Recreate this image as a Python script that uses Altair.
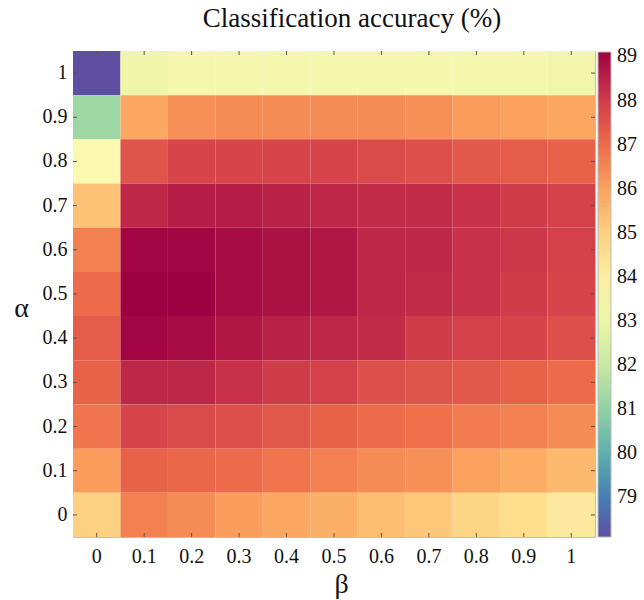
import altair as alt
import pandas as pd

beta = ["0", "0.1", "0.2", "0.3", "0.4", "0.5", "0.6", "0.7", "0.8", "0.9", "1"]
alpha = ["1", "0.9", "0.8", "0.7", "0.6", "0.5", "0.4", "0.3", "0.2", "0.1", "0"]

acc_a10 = [78.1, 83.1, 83.3, 83.3, 83.3, 83.3, 83.3, 83.3, 83.3, 83.3, 83.2]
acc_a09 = [81.2, 85.9, 86.3, 86.4, 86.4, 86.4, 86.4, 86.3, 86.1, 86.0, 85.9]
acc_a08 = [83.6, 87.5, 87.8, 87.8, 87.8, 87.8, 87.7, 87.6, 87.4, 87.3, 87.2]
acc_a07 = [85.3, 88.4, 88.6, 88.6, 88.5, 88.4, 88.3, 88.3, 88.2, 88.0, 87.9]
acc_a06 = [86.6, 89.0, 89.0, 88.9, 88.8, 88.7, 88.4, 88.4, 88.2, 88.1, 87.9]
acc_a05 = [87.0, 89.1, 89.1, 88.9, 88.8, 88.7, 88.4, 88.3, 88.2, 88.0, 87.8]
acc_a04 = [87.3, 89.0, 88.9, 88.7, 88.5, 88.4, 88.3, 88.0, 87.9, 87.8, 87.6]
acc_a03 = [87.2, 88.4, 88.4, 88.2, 88.0, 87.9, 87.6, 87.5, 87.4, 87.2, 87.0]
acc_a02 = [86.8, 87.8, 87.7, 87.6, 87.4, 87.2, 87.0, 86.9, 86.7, 86.6, 86.4]
acc_a01 = [86.1, 87.2, 87.1, 87.0, 86.8, 86.6, 86.4, 86.3, 86.0, 85.8, 85.5]
acc_a00 = [85.0, 86.6, 86.4, 86.1, 85.9, 85.7, 85.4, 85.2, 84.9, 84.7, 84.2]

rows = [acc_a10, acc_a09, acc_a08, acc_a07, acc_a06, acc_a05,
        acc_a04, acc_a03, acc_a02, acc_a01, acc_a00]
colorbar_ticks = [79, 80, 81, 82, 83, 84, 85, 86, 87, 88, 89]
color_domain = [78.1, 89.1]

records = []
for a, row in zip(alpha, rows):
    for b, v in zip(beta, row):
        records.append({"alpha": a, "beta": b, "acc": v})
df = pd.DataFrame(records)
df_beta = pd.DataFrame({"beta": beta})
df_alpha = pd.DataFrame({"alpha": alpha})

W, H = 522, 486
SERIF = "Liberation Serif"
TICK = "#555555"

xscale = alt.Scale(domain=beta, paddingInner=0, paddingOuter=0)
yscale = alt.Scale(domain=alpha, paddingInner=0, paddingOuter=0)

heat = alt.Chart(df).mark_rect(strokeWidth=0).encode(
    x=alt.X("beta:O", scale=xscale, sort=beta,
            axis=alt.Axis(title="β", labelAngle=0, ticks=False, domain=False,
                          labelFontSize=20, labelPadding=9, labelColor="#111111",
                          titleFontSize=28, titleFontWeight="normal",
                          titleX=268, titleY=47, titleBaseline="middle",
                          titleAlign="center", titleColor="#111111")),
    y=alt.Y("alpha:O", scale=yscale, sort=alpha,
            axis=alt.Axis(title="α", ticks=False, domain=False,
                          labelFontSize=20, labelPadding=6, labelColor="#111111",
                          titleFontSize=28, titleFontWeight="normal",
                          titleAngle=0, titleX=-52, titleY=257,
                          titleBaseline="middle", titleAlign="center",
                          titleColor="#111111")),
    color=alt.Color("acc:Q",
                    scale=alt.Scale(scheme="spectral", reverse=True, domain=color_domain),
                    legend=alt.Legend(title=None, orient="none", legendX=525, legendY=1,
                                      direction="vertical", gradientLength=485,
                                      gradientThickness=13, values=colorbar_ticks,
                                      labelFontSize=20, labelColor="#111111",
                                      labelOffset=6, labelOverlap=False,
                                      gradientStrokeColor="#bbbbbb",
                                      gradientStrokeWidth=1)),
)

top_ticks = alt.Chart(df_beta).mark_rule(color=TICK, strokeWidth=1).encode(
    x=alt.X("beta:O", scale=xscale, sort=beta),
    y=alt.value(0), y2=alt.value(4))
bottom_ticks = alt.Chart(df_beta).mark_rule(color=TICK, strokeWidth=1).encode(
    x=alt.X("beta:O", scale=xscale, sort=beta),
    y=alt.value(H), y2=alt.value(H - 4))
left_ticks = alt.Chart(df_alpha).mark_rule(color=TICK, strokeWidth=1).encode(
    y=alt.Y("alpha:O", scale=yscale, sort=alpha),
    x=alt.value(0), x2=alt.value(4))
right_ticks = alt.Chart(df_alpha).mark_rule(color=TICK, strokeWidth=1).encode(
    y=alt.Y("alpha:O", scale=yscale, sort=alpha),
    x=alt.value(W), x2=alt.value(W - 4))

chart = alt.layer(heat, top_ticks, bottom_ticks, left_ticks, right_ticks).properties(
    width=W, height=H,
    title=alt.TitleParams("Classification accuracy (%)", fontSize=27,
                          fontWeight="normal", color="#111111", anchor="middle",
                          dx=18, offset=18),
    autosize=alt.AutoSizeParams(type="none"),
    padding={"left": 73, "top": 51, "right": 49, "bottom": 63},
).configure(
    font=SERIF, background="white"
).configure_axis(
    labelFont=SERIF, titleFont=SERIF
).configure_legend(
    labelFont=SERIF
).configure_title(
    font=SERIF
).configure_view(stroke="#bdbdbd", strokeWidth=1)

chart.save("out.html", embed_options={"renderer": "svg", "actions": False})
